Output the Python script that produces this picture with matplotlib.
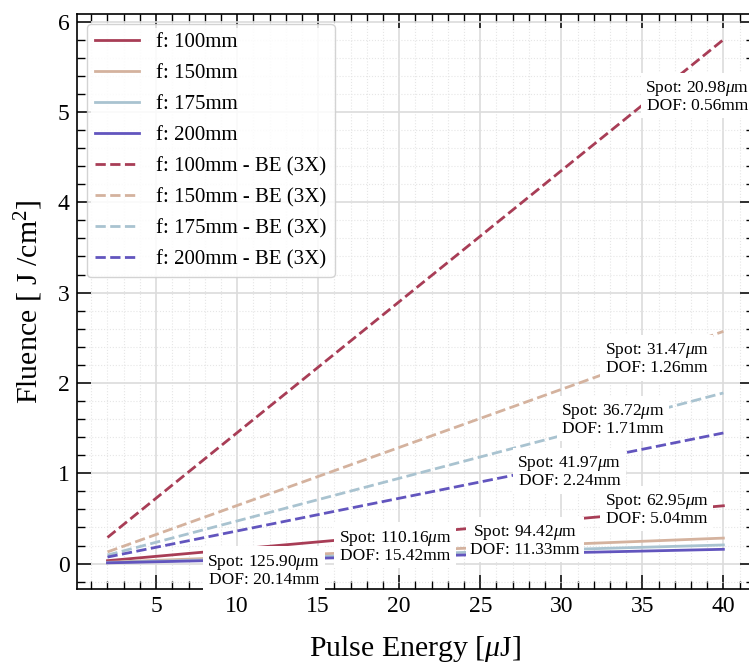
import matplotlib
matplotlib.use("Agg")
import matplotlib.pyplot as plt
from matplotlib.ticker import MultipleLocator

plt.rcParams['font.family'] = ['Liberation Serif', 'DejaVu Serif']
plt.rcParams['mathtext.fontset'] = 'custom'
plt.rcParams['mathtext.rm'] = 'Liberation Serif'
plt.rcParams['mathtext.it'] = 'Liberation Serif:italic'

# ---- data ----
energy = [2, 40]
labels = ["f: 100mm", "f: 150mm", "f: 175mm", "f: 200mm",
          "f: 100mm - BE (3X)", "f: 150mm - BE (3X)", "f: 175mm - BE (3X)", "f: 200mm - BE (3X)"]
fluence_100 = [0.032, 0.640]
fluence_150 = [0.014, 0.282]
fluence_175 = [0.010, 0.206]
fluence_200 = [0.008, 0.158]
fluence_100_be = [0.289, 5.80]
fluence_150_be = [0.129, 2.571]
fluence_175_be = [0.094, 1.889]
fluence_200_be = [0.072, 1.446]
spots = ["62.95", "94.42", "110.16", "125.90", "20.98", "31.47", "36.72", "41.97"]
dofs = ["5.04", "11.33", "15.42", "20.14", "0.56", "1.26", "1.71", "2.24"]
label_x = [35.89, 27.76, 19.74, 11.65, 38.4, 35.89, 33.2, 30.5]
label_y = [0.60, 0.257, 0.191, -0.074, 5.17, 2.265, 1.596, 1.015]

colors = ["#a83d56", "#d4b29e", "#a9c3d0", "#6255be"]
series = [fluence_100, fluence_150, fluence_175, fluence_200,
          fluence_100_be, fluence_150_be, fluence_175_be, fluence_200_be]

fig = plt.figure(figsize=(7.49, 6.66), dpi=100)
ax = fig.add_axes([0.1024, 0.1156, 0.9045, 0.8641])

for i, s in enumerate(series):
    ax.plot(energy, s, color=colors[i % 4], lw=2,
            ls='-' if i < 4 else '--', label=labels[i], zorder=3)

for i in range(8):
    ax.text(label_x[i], label_y[i],
            f"Spot: {spots[i]}$\\mu$m\nDOF: {dofs[i]}mm",
            ha='center', va='center', multialignment='center',
            fontsize=12.5, linespacing=1.0,
            bbox=dict(boxstyle='square,pad=0.25', fc='white', ec='none'),
            zorder=10, clip_on=False)

ax.xaxis.set_major_locator(MultipleLocator(5))
ax.xaxis.set_minor_locator(MultipleLocator(1))
ax.yaxis.set_major_locator(MultipleLocator(1))
ax.yaxis.set_minor_locator(MultipleLocator(0.2))
ax.tick_params(which='both', direction='in', top=True, right=True, labelsize=17)
ax.tick_params(which='major', length=10, width=1.1, pad=5)
ax.tick_params(which='minor', length=6, width=1.0)
for sp in ax.spines.values():
    sp.set_linewidth(1.2)

ax.grid(which='major', color='#dcdcdc', lw=1.2, zorder=0)
ax.grid(which='minor', color='#e6e6e6', lw=0.8, ls=':', zorder=0)
ax.set_axisbelow(True)

ax.set_xlabel("Pulse Energy [$\\mu$J]", fontsize=21.5, labelpad=12)
ax.set_ylabel("Fluence [ J /cm$^2$]", fontsize=21.5, labelpad=9)

ax.legend(loc='upper left', fontsize=15, handlelength=2.1, labelspacing=0.55,
          framealpha=0.85, edgecolor='#cccccc', fancybox=True)

fig.savefig("out.png", dpi=100)
